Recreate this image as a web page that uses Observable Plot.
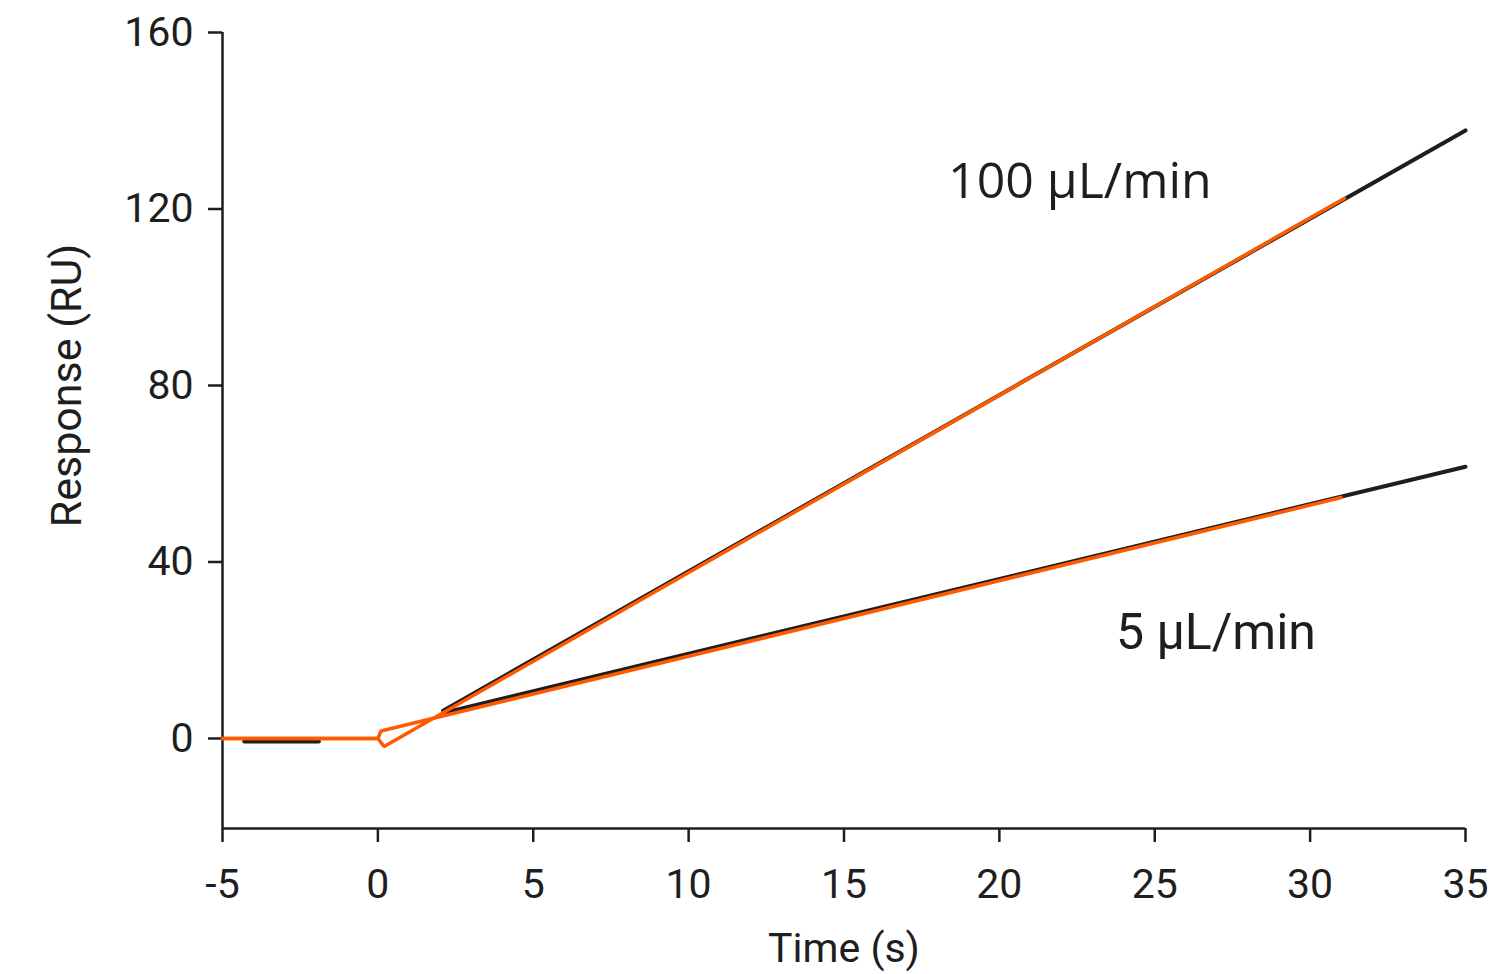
<!DOCTYPE html>
<html>
<head>
<meta charset="utf-8">
<script src="https://cdn.jsdelivr.net/npm/d3@7"></script>
<script src="https://cdn.jsdelivr.net/npm/@observablehq/plot@0.6"></script>
<style>
  html, body { margin: 0; padding: 0; background: #fff; }
  #chart svg { display: block; }
</style>
</head>
<body>
<div id="chart"></div>
<script>
// ---- data ----
const xDomain = [-5, 35];
const yDomain = [-20.4, 160];
const xTicks = [-5, 0, 5, 10, 15, 20, 25, 30, 35];
const yTicks = [0, 40, 80, 120, 160];
const xLabel = "Time (s)";
const yLabel = "Response (RU)";

// black (reference) traces
const blackBaseTime = [-4.3, -1.9];
const blackBaseResp = [-0.7, -0.7];
const black100Time = [2.1, 35];
const black100Resp = [6.3, 137.8];
const black5Time = [2.1, 35];
const black5Resp = [5.8, 61.6];

// orange (measured) traces
const orange100Time = [-5, 0, 0.2, 31.1];
const orange100Resp = [0, 0, -1.8, 122.4];
const orange5Time = [-5, 0, 0.1, 31.0];
const orange5Resp = [0, 0, 1.7, 54.6];

const labelTexts = ["100 µL/min", "5 µL/min"];
const labelTime = [18.35, 23.75];
const labelResp = [122.6, 20.3];

const toPts = (xs, ys) => xs.map((x, i) => ({x, y: ys[i]}));

const ink = "#1e1e1e";
const orange = "#ff5a00";

const chart = Plot.plot({
  width: 1512,
  height: 974,
  marginLeft: 222,
  marginRight: 47,
  marginTop: 32,
  marginBottom: 146,
  style: {fontFamily: "Roboto", color: ink, background: "#fff"},
  x: {domain: xDomain},
  y: {domain: yDomain},
  marks: [
    Plot.axisX({ticks: xTicks, tickFormat: d => String(d), tickSize: 14, tickPadding: 26, fontSize: 41, strokeWidth: 2.5,
      label: xLabel, labelArrow: false, labelAnchor: "center", labelOffset: 133, color: ink}),
    Plot.axisY({ticks: yTicks, tickFormat: d => String(d), tickSize: 14, tickPadding: 15, fontSize: 41, strokeWidth: 2.5,
      label: null, color: ink}),
    Plot.text([yLabel], {frameAnchor: "left", text: d => d, rotate: -90, lineAnchor: "top", textAnchor: "middle",
      dx: -172, dy: -45, fontSize: 43, fontFamily: "Roboto", fill: ink}),
    Plot.ruleX([xDomain[0]], {stroke: ink, strokeWidth: 2.5}),
    Plot.ruleY([yDomain[0]], {stroke: ink, strokeWidth: 2.5}),
    Plot.line(toPts(blackBaseTime, blackBaseResp), {x: "x", y: "y", stroke: ink, strokeWidth: 4}),
    Plot.line(toPts(black100Time, black100Resp), {x: "x", y: "y", stroke: ink, strokeWidth: 4}),
    Plot.line(toPts(black5Time, black5Resp), {x: "x", y: "y", stroke: ink, strokeWidth: 4}),
    Plot.line(toPts(orange100Time, orange100Resp), {x: "x", y: "y", stroke: orange, strokeWidth: 3.5, strokeLinejoin: "miter"}),
    Plot.line(toPts(orange5Time, orange5Resp), {x: "x", y: "y", stroke: orange, strokeWidth: 3.5, strokeLinejoin: "miter"}),
    Plot.text([0], {x: labelTime[0], y: labelResp[0], text: () => labelTexts[0], textAnchor: "start", lineAnchor: "bottom",
      fontSize: 50, fontFamily: "Open Sans", fill: ink}),
    Plot.text([1], {x: labelTime[1], y: labelResp[1], text: () => labelTexts[1], textAnchor: "start", lineAnchor: "bottom",
      fontSize: 50, fontFamily: "Roboto", fill: ink})
  ]
});
document.getElementById("chart").appendChild(chart);
</script>
</body>
</html>
